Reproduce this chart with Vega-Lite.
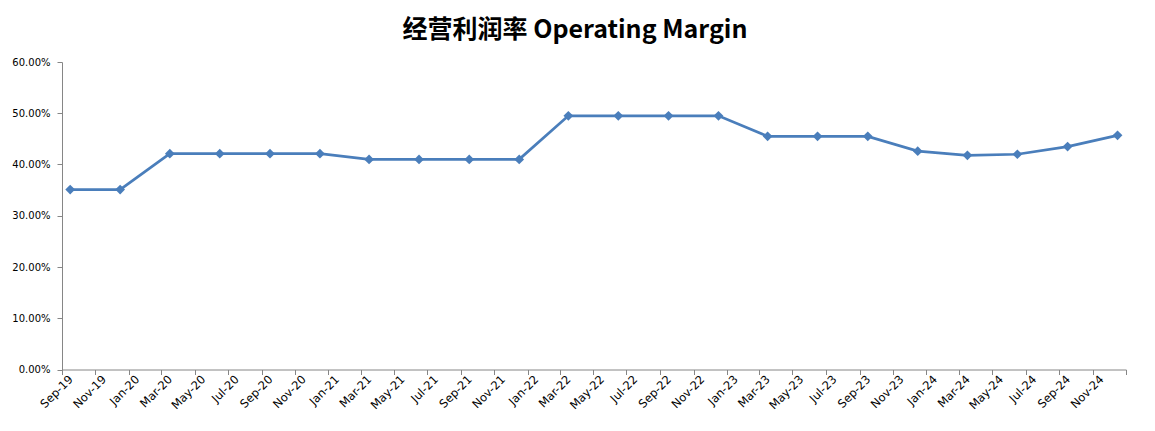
{
  "$schema": "https://vega.github.io/schema/vega-lite/v6.json",
  "autosize": "none",
  "width": 1064,
  "height": 307.5,
  "padding": {"left": 62, "top": 62, "right": 29, "bottom": 61.5},
  "background": "white",
  "title": {
    "text": "经营利润率 Operating Margin",
    "font": "Noto Sans CJK SC",
    "fontSize": 25,
    "fontWeight": "bold",
    "color": "#000000",
    "anchor": "middle",
    "frame": "group",
    "dx": -19,
    "offset": 14
  },
  "config": {
    "view": {"stroke": null},
    "axis": {
      "labelFont": "DejaVu Sans",
      "labelFontSize": 10,
      "labelColor": "#000000",
      "domainColor": "#868686",
      "tickColor": "#868686",
      "tickSize": 5,
      "grid": false,
      "title": null
    }
  },
  "data": {
    "values": [
      {"date": "2019-09-01", "margin": 0.351},
      {"date": "2019-12-01", "margin": 0.351},
      {"date": "2020-03-01", "margin": 0.421},
      {"date": "2020-06-01", "margin": 0.421},
      {"date": "2020-09-01", "margin": 0.421},
      {"date": "2020-12-01", "margin": 0.421},
      {"date": "2021-03-01", "margin": 0.410},
      {"date": "2021-06-01", "margin": 0.410},
      {"date": "2021-09-01", "margin": 0.410},
      {"date": "2021-12-01", "margin": 0.410},
      {"date": "2022-03-01", "margin": 0.495},
      {"date": "2022-06-01", "margin": 0.495},
      {"date": "2022-09-01", "margin": 0.495},
      {"date": "2022-12-01", "margin": 0.495},
      {"date": "2023-03-01", "margin": 0.455},
      {"date": "2023-06-01", "margin": 0.455},
      {"date": "2023-09-01", "margin": 0.455},
      {"date": "2023-12-01", "margin": 0.426},
      {"date": "2024-03-01", "margin": 0.418},
      {"date": "2024-06-01", "margin": 0.420},
      {"date": "2024-09-01", "margin": 0.435},
      {"date": "2024-12-01", "margin": 0.457}
    ]
  },
  "encoding": {
    "x": {
      "field": "date",
      "type": "temporal",
      "timeUnit": "yearmonth",
      "bandPosition": 0.5,
      "scale": {
        "domain": [{"year": 2019, "month": 9, "date": 1}, {"year": 2025, "month": 1, "date": 1}],
        "nice": false
      },
      "axis": {
        "format": "%b-%y",
        "tickCount": {"interval": "month", "step": 2},
        "labelExpr": "year(datum.value) >= 2025 ? '' : datum.label",
        "labelFontSize": 11.5,
        "labelAngle": -45,
        "labelAlign": "right",
        "labelBaseline": "middle",
        "labelOffset": 9,
        "labelPadding": 3,
        "labelOverlap": false,
        "labelFlush": false,
        "labelBound": false
      }
    },
    "y": {
      "field": "margin",
      "type": "quantitative",
      "scale": {"domain": [0, 0.6], "nice": false},
      "axis": {
        "format": ".2%",
        "values": [0, 0.1, 0.2, 0.3, 0.4, 0.5, 0.6],
        "labelPadding": 7
      }
    }
  },
  "layer": [
    {"mark": {"type": "line", "color": "#4A7EBB", "strokeWidth": 2.75}},
    {"mark": {"type": "point", "shape": "diamond", "filled": true, "color": "#4A7EBB", "opacity": 1, "size": 95}}
  ]
}
